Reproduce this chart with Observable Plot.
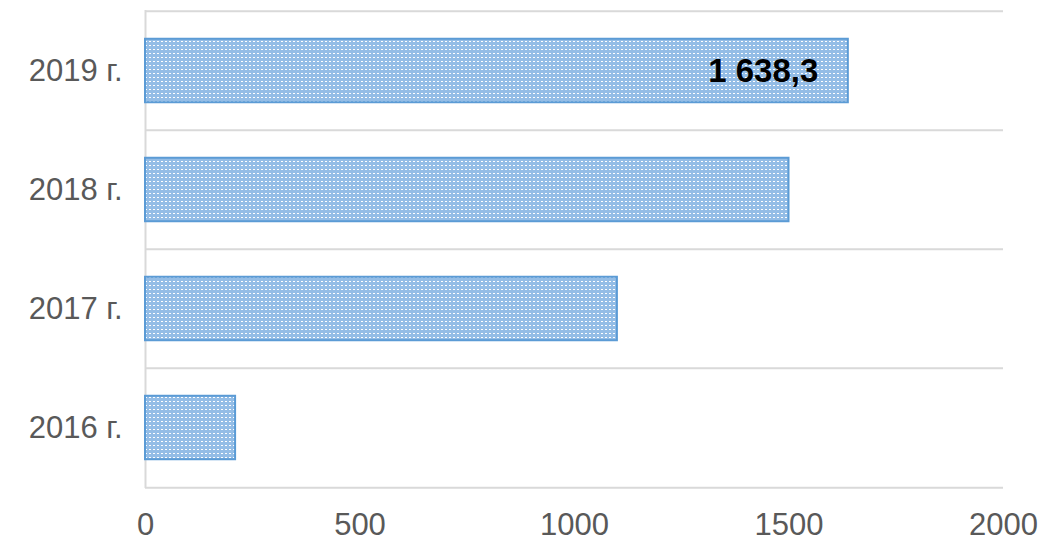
<!DOCTYPE html>
<html>
<head>
<meta charset="utf-8">
<script src="https://cdn.jsdelivr.net/npm/d3@7"></script>
<script src="https://cdn.jsdelivr.net/npm/@observablehq/plot@0.6"></script>
<style>
  html, body { margin: 0; padding: 0; background: #fff; }
  #chart { width: 1061px; height: 541px; }
</style>
</head>
<body>
<div id="chart"></div>
<script>
const years = ["2019 г.", "2018 г.", "2017 г.", "2016 г."];
const values = [1638.3, 1500, 1100, 210];
const valueLabels = ["1 638,3", null, null, null];
const xTicks = [0, 500, 1000, 1500, 2000];

const data = years.map((y, i) => ({year: y, value: values[i], label: valueLabels[i]}));

const W = 1061, H = 541, mT = 10, mB = 53, mL = 145, mR = 58;
const step = (H - mT - mB) / years.length;
const barH = 64;
const inset = (step - barH) / 2;

const chart = Plot.plot({
  width: W,
  height: H,
  marginTop: mT,
  marginBottom: mB,
  marginLeft: mL,
  marginRight: mR,
  style: {fontFamily: "'Liberation Sans', Arial, sans-serif", background: "#fff"},
  x: {domain: [0, 2000], ticks: xTicks, label: null},
  y: {domain: years, padding: 0, label: null},
  marks: [
    Plot.ruleY(years, {y: d => d, dy: -step / 2, stroke: "#d9d9d9", strokeWidth: 2}),
    Plot.ruleY([years[years.length - 1]], {y: d => d, dy: step / 2, stroke: "#d9d9d9", strokeWidth: 2}),
    Plot.ruleX([0], {stroke: "#d9d9d9", strokeWidth: 2}),
    Plot.barX(data, {x: "value", y: "year", insetTop: inset, insetBottom: inset, fill: "url(#dotpat)", stroke: "#5b9bd5", strokeWidth: 2}),
    Plot.text(data.filter(d => d.label), {x: "value", y: "year", text: "label", dx: -30, textAnchor: "end", fontWeight: "bold", fontSize: 33, fill: "#000"}),
    Plot.axisX({ticks: xTicks, tickSize: 0, tickPadding: 24, fontSize: 31, color: "#595959", tickFormat: d => String(d)}),
    Plot.axisY({tickSize: 0, tickPadding: 23, fontSize: 31, color: "#595959"})
  ]
});

const svgNS = "http://www.w3.org/2000/svg";
const defs = document.createElementNS(svgNS, "defs");
const pat = document.createElementNS(svgNS, "pattern");
pat.setAttribute("id", "dotpat");
pat.setAttribute("patternUnits", "userSpaceOnUse");
pat.setAttribute("width", "4");
pat.setAttribute("height", "4");
const bg = document.createElementNS(svgNS, "rect");
bg.setAttribute("width", "4"); bg.setAttribute("height", "4"); bg.setAttribute("fill", "#94bde6");
const dot = document.createElementNS(svgNS, "rect");
dot.setAttribute("x", "1"); dot.setAttribute("y", "1");
dot.setAttribute("width", "2"); dot.setAttribute("height", "1"); dot.setAttribute("fill", "#ffffff");
pat.appendChild(bg); pat.appendChild(dot); defs.appendChild(pat);
chart.insertBefore(defs, chart.firstChild);

document.getElementById("chart").appendChild(chart);
</script>
</body>
</html>
